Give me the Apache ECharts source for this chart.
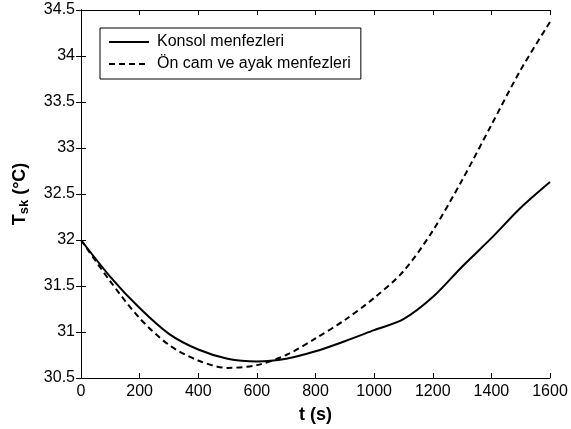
<!DOCTYPE html>
<html>
<head>
<meta charset="utf-8">
<script src="https://cdn.jsdelivr.net/npm/echarts@6/dist/echarts.min.js"></script>
<style>
  html, body { margin: 0; padding: 0; background: #fff; }
  #chart { width: 571px; height: 429px; }
</style>
</head>
<body>
<div id="chart"></div>
<script>
// time (s)
var times = [0, 100, 200, 300, 400, 500, 600, 700, 800, 900, 1000, 1100, 1200, 1300, 1400, 1500, 1600];
// Konsol menfezleri (solid)
var konsol = [32.0, 31.60, 31.26, 30.98, 30.81, 30.71, 30.68, 30.71, 30.79, 30.90, 31.02, 31.14, 31.38, 31.71, 32.02, 32.35, 32.63];
// Ön cam ve ayak menfezleri (dashed)
var onCam = [32.0, 31.55, 31.15, 30.86, 30.69, 30.61, 30.64, 30.75, 30.93, 31.13, 31.37, 31.66, 32.10, 32.65, 33.25, 33.85, 34.37];
var seriesNames = ['Konsol menfezleri', 'Ön cam ve ayak menfezleri'];
var xTicks = [0, 1600, 200];
var yTicks = [30.5, 34.5, 0.5];

var font = 'Liberation Sans, Arial, Helvetica, sans-serif';

function pairs(vals) {
  return times.map(function (t, i) { return [t, vals[i]]; });
}

var chart = echarts.init(document.getElementById('chart'), null, { renderer: 'canvas' });

var lineAxis = { show: true, lineStyle: { color: '#000', width: 1 } };
var tick = { show: true, inside: true, length: 5, lineStyle: { color: '#000', width: 1 } };

var option = {
  animation: false,
  backgroundColor: '#fff',
  grid: { left: 81, right: 21, top: 10, bottom: 51, containLabel: false },
  legend: {
    data: seriesNames,
    orient: 'vertical',
    left: 100,
    top: 28,
    padding: [6, 10, 7, 8],
    itemGap: 6,
    itemWidth: 40,
    itemHeight: 14,
    borderColor: '#000',
    borderWidth: 1,
    backgroundColor: '#fff',
    itemStyle: { opacity: 0 },
    textStyle: { fontFamily: font, fontSize: 16, color: '#000', padding: [0, 0, 0, 3] }
  },
  xAxis: [
    {
      type: 'value', min: xTicks[0], max: xTicks[1], interval: xTicks[2],
      axisLine: lineAxis, axisTick: tick, splitLine: { show: false },
      axisLabel: { fontFamily: font, fontSize: 16, color: '#000', margin: 6,
        formatter: function (v) { return String(v); } },
      name: 't (s)', nameLocation: 'middle', nameGap: 28,
      nameTextStyle: { fontFamily: font, fontSize: 18, fontWeight: 'bold', color: '#000' }
    },
    {
      type: 'value', position: 'top', min: xTicks[0], max: xTicks[1], interval: xTicks[2],
      axisLine: lineAxis, axisTick: tick, splitLine: { show: false },
      axisLabel: { show: false }
    }
  ],
  yAxis: [
    {
      type: 'value', min: yTicks[0], max: yTicks[1], interval: yTicks[2],
      axisLine: lineAxis, axisTick: tick, splitLine: { show: false },
      axisLabel: { fontFamily: font, fontSize: 16, color: '#000', margin: 6 },
      name: 'T{sub|sk} (°C)', nameLocation: 'middle', nameGap: 50, nameRotate: 90,
      nameTextStyle: {
        fontFamily: font, fontSize: 18, fontWeight: 'bold', color: '#000',
        rich: {
          sub: { fontFamily: font, fontSize: 13, fontWeight: 'bold', color: '#000', verticalAlign: 'bottom', padding: [9, 0, 0, 0] }
        }
      }
    },
    {
      type: 'value', position: 'right', min: yTicks[0], max: yTicks[1], interval: yTicks[2],
      axisLine: lineAxis, axisTick: tick, splitLine: { show: false },
      axisLabel: { show: false }
    }
  ],
  series: [
    {
      name: seriesNames[0], type: 'line', data: pairs(konsol),
      smooth: 0.3, symbol: 'none', color: '#000',
      lineStyle: { color: '#000', width: 2, type: 'solid' }
    },
    {
      name: seriesNames[1], type: 'line', data: pairs(onCam),
      smooth: 0.3, symbol: 'none', color: '#000',
      lineStyle: { color: '#000', width: 2, type: [6, 4] }
    }
  ]
};

chart.setOption(option);
</script>
</body>
</html>
